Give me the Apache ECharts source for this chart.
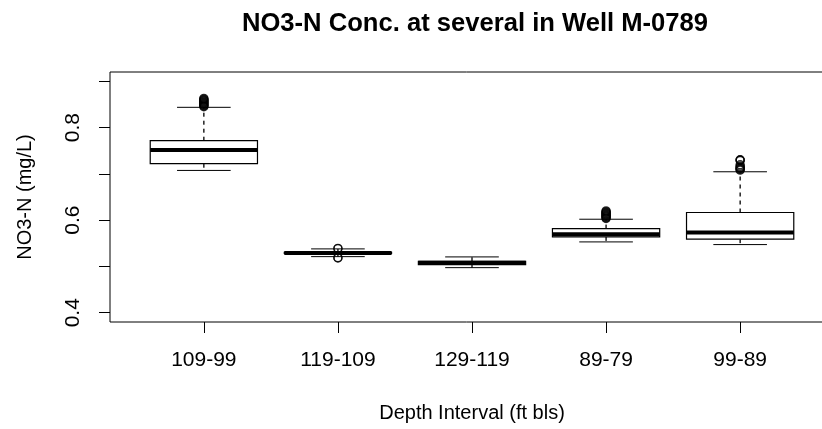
<!DOCTYPE html>
<html>
<head>
<meta charset="utf-8">
<script src="https://cdn.jsdelivr.net/npm/echarts@6/dist/echarts.min.js"></script>
<style>
  html, body { margin: 0; padding: 0; background: #fff; }
  #main { width: 822px; height: 429px; }
</style>
</head>
<body>
<div id="main"></div>
<script>
// box summaries (mg/L)
const categories = ['109-99', '119-109', '129-119', '89-79', '99-89']
const whiskerLow = [0.7074, 0.5212, 0.4974, 0.553, 0.5472]
const q1 = [0.7219, 0.528, 0.504, 0.5638, 0.5589]
const median = [0.7515, 0.5292, 0.5078, 0.5693, 0.5732]
const q3 = [0.7716, 0.5305, 0.5112, 0.5818, 0.6165]
const whiskerHigh = [0.8437, 0.5379, 0.5206, 0.602, 0.7045]
const outliers = [
  [0.845, 0.8465, 0.848, 0.8495, 0.851, 0.8525, 0.854, 0.8555, 0.857, 0.8585, 0.86, 0.8615, 0.863],
  [0.539, 0.5385, 0.519, 0.5184],
  [],
  [0.6035, 0.605, 0.6065, 0.608, 0.6095, 0.611, 0.6125, 0.614, 0.6155, 0.617, 0.6185, 0.62],
  [0.708, 0.7095, 0.711, 0.7125, 0.714, 0.7165, 0.7195, 0.729, 0.7298, 0.7305]
]
const yTicks = [0.4, 0.5, 0.6, 0.7, 0.8, 0.9]
const yLabels = [0.4, 0.6, 0.8]
const xTicks = [1, 2, 3, 4, 5]

const font = 'Liberation Sans, Arial, sans-serif'

const boxData = categories.map((c, i) => [i + 1, whiskerLow[i], q1[i], median[i], q3[i], whiskerHigh[i]])
const outlierData = []
outliers.forEach((arr, i) => arr.forEach(v => outlierData.push([i + 1, v])))

function line(x1, y1, x2, y2, extra) {
  return { type: 'line', shape: { x1, y1, x2, y2 }, style: Object.assign({ stroke: '#000', lineWidth: 1 }, extra) }
}

function renderBox(params, api) {
  const x = api.value(0)
  const unit = api.size([1, 0])[0]
  const half = unit * 0.4
  const cap = unit * 0.2
  const p = (i) => api.coord([x, api.value(i)])
  const lo = p(1), a = p(2), m = p(3), b = p(4), hi = p(5)
  const cx = lo[0]
  return {
    type: 'group',
    children: [
      line(cx, b[1], cx, hi[1], { lineDash: [4, 4], lineWidth: 1.3 }),
      line(cx, a[1], cx, lo[1], { lineDash: [4, 4], lineWidth: 1.3 }),
      line(cx - cap, hi[1], cx + cap, hi[1]),
      line(cx - cap, lo[1], cx + cap, lo[1]),
      { type: 'rect', shape: { x: cx - half, y: b[1], width: half * 2, height: a[1] - b[1] }, style: { fill: '#fff', stroke: '#000', lineWidth: 1.2 } },
      line(cx - half, m[1], cx + half, m[1], { lineWidth: 4 })
    ]
  }
}

const myChart = echarts.init(document.getElementById('main'))
myChart.setOption({
  animation: false,
  backgroundColor: '#fff',
  title: {
    text: 'NO3-N Conc. at several in Well M-0789',
    left: 470,
    top: 6,
    textAlign: 'center',
    textStyle: { fontFamily: font, fontWeight: 'bold', fontSize: 25.6, color: '#000' }
  },
  grid: {
    left: 110, right: -12, top: 72, bottom: 107,
    show: true, borderColor: '#000', borderWidth: 1,
    containLabel: false, outerBoundsMode: 'none'
  },
  xAxis: {
    type: 'value',
    min: 0.3,
    max: 5.7,
    axisLine: { show: false, onZero: false },
    splitLine: { show: false },
    axisTick: { show: true, customValues: xTicks, length: 11, lineStyle: { color: '#000' } },
    axisLabel: {
      customValues: xTicks,
      formatter: (v) => categories[v - 1],
      margin: 28,
      fontSize: 21,
      color: '#000',
      fontFamily: font
    },
    name: 'Depth Interval (ft bls)',
    nameLocation: 'middle',
    nameGap: 81,
    nameTextStyle: { fontSize: 20, color: '#000', fontFamily: font }
  },
  yAxis: {
    type: 'value',
    min: 0.38,
    max: 0.92,
    axisLine: { show: false, onZero: false },
    splitLine: { show: false },
    axisTick: { show: true, customValues: yTicks, length: 11, lineStyle: { color: '#000' } },
    axisLabel: {
      customValues: yLabels,
      formatter: (v) => v.toFixed(1),
      rotate: 90,
      margin: 26,
      fontSize: 21,
      color: '#000',
      fontFamily: font
    },
    name: 'NO3-N (mg/L)',
    nameLocation: 'middle',
    nameRotate: 90,
    nameGap: 75,
    nameTextStyle: { fontSize: 20, color: '#000', fontFamily: font }
  },
  series: [
    {
      type: 'custom',
      renderItem: renderBox,
      data: boxData,
      encode: { x: 0, y: [1, 2, 3, 4, 5] },
      z: 2
    },
    {
      type: 'scatter',
      data: outlierData,
      symbol: 'circle',
      symbolSize: 8,
      itemStyle: { color: 'rgba(0,0,0,0)', borderColor: '#000', borderWidth: 1.4 },
      z: 3
    }
  ]
})
</script>
</body>
</html>
